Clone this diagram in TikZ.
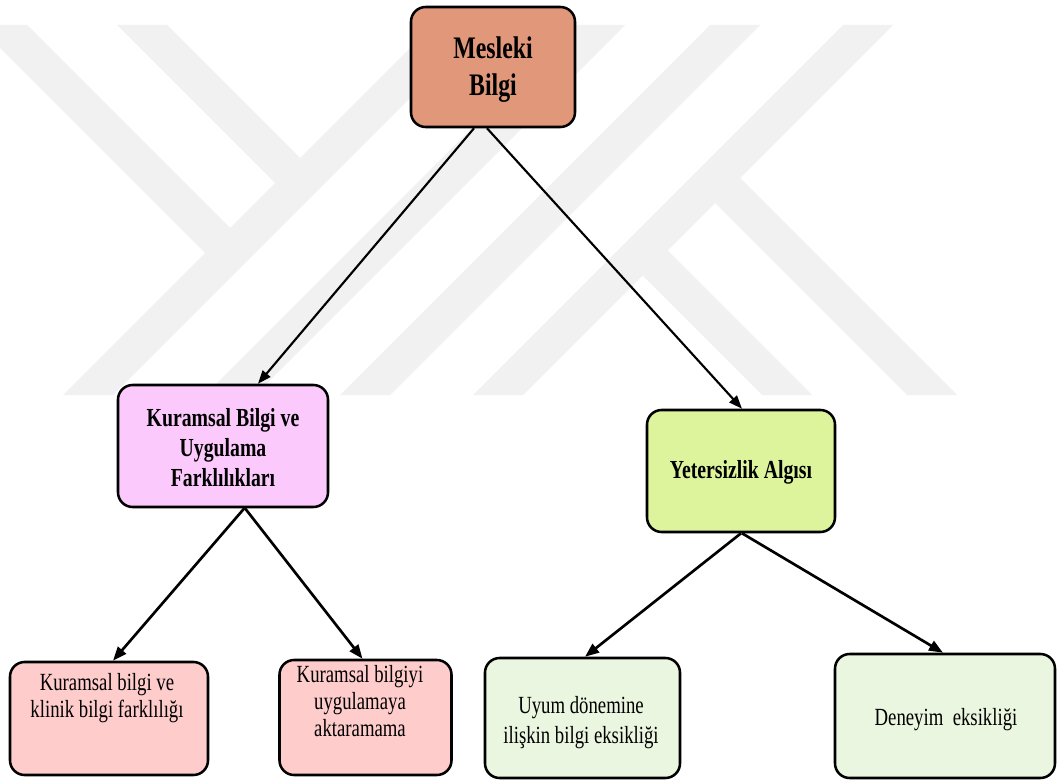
\documentclass[tikz,border=0pt]{standalone}
\usepackage{fontspec}
\setmainfont{Liberation Serif}[FakeStretch=0.76]
\usetikzlibrary{arrows.meta}

\definecolor{rootfill}{RGB}{224,151,122}
\definecolor{midpink}{RGB}{251,201,251}
\definecolor{midgreen}{RGB}{221,244,156}
\definecolor{leafpink}{RGB}{255,204,204}
\definecolor{leafgreen}{RGB}{235,246,224}
\definecolor{markgray}{RGB}{241,241,241}

\newcommand\fRoot{\bfseries\fontsize{23.5pt}{27.75pt}\selectfont}
\newcommand\fMid{\bfseries\fontsize{19.5pt}{22.5pt}\selectfont}
\newcommand\fLeaf{\fontsize{18.5pt}{20.5pt}\selectfont}
\newcommand\fLeafWide{\fontsize{18.5pt}{22.5pt}\selectfont}

\begin{document}
\begin{tikzpicture}[x=0.75pt,y=-0.75pt,
  box/.style={draw=black, line width=1.9pt, rounded corners=11pt, inner sep=0pt},
  txt/.style={align=center, inner sep=0pt},
  link/.style={line width=1.6pt, -{Triangle[length=10pt,width=7.5pt]}},
  thicklink/.style={line width=2pt, -{Triangle[length=10.5pt,width=8pt]}}
]
% page
\fill[white] (0,0) rectangle (1057,781);
\useasboundingbox (0,0) rectangle (1057,781);

% faint background logo made of diagonal bands
\begin{scope}[markgray]
  \fill (0,25) -- (27,25) -- (230,228) -- (205,253) -- (0,48) -- cycle;
  \fill (117,25) -- (167,25) -- (300,158) -- (275,183) -- cycle;
  \fill (433,25) -- (483,25) -- (113,395) -- (63,395) -- cycle;
  \fill (575,25) -- (625,25) -- (255,395) -- (205,395) -- cycle;
  \fill (710,25) -- (760,25) -- (390,395) -- (340,395) -- cycle;
  \fill (843,25) -- (893,25) -- (523,395) -- (473,395) -- cycle;
  \fill (740,178) -- (957,395) -- (907,395) -- (715,203) -- cycle;
  \fill (667.5,250.5) -- (812,395) -- (762,395) -- (642.5,275.5) -- cycle;
\end{scope}

% boxes
\node[box, fill=rootfill,  minimum width=123pt,    minimum height=90pt]    (root) at (493,67)    {};
\node[box, fill=midpink,   minimum width=157.5pt,  minimum height=91.5pt]  (kur)  at (223,446)   {};
\node[box, fill=midgreen,  minimum width=141pt,    minimum height=91.5pt]  (yet)  at (741,471)   {};
\node[box, fill=leafpink,  minimum width=148.5pt,  minimum height=84.75pt] (b1)   at (109,718.5) {};
\node[box, fill=leafpink,  minimum width=129pt,    minimum height=86.25pt] (b2)   at (365.5,717.5) {};
\node[box, fill=leafgreen, minimum width=146.25pt, minimum height=90pt]    (b3)   at (582.5,718) {};
\node[box, fill=leafgreen, minimum width=165pt,    minimum height=93pt]    (b4)   at (945,716)   {};

% labels
\node[txt, font=\fRoot]     (rootT) at (493,70)  {Mesleki\\Bilgi};
\node[txt, font=\fMid]      (kurT)  at (223,448) {Kuramsal Bilgi ve\\Uygulama\\Farklılıkları};
\node[txt, font=\fMid]      (yetT)  at (741,472) {Yetersizlik Algısı};
\node[txt, font=\fLeaf]     (b1T)   at (107,698) {Kuramsal bilgi ve\\klinik bilgi farklılığı};
\node[txt, font=\fLeaf]     (b2T)   at (360,701) {Kuramsal bilgiyi\\uygulamaya\\aktaramama};
\node[txt, font=\fLeafWide] (b3T)   at (581,723) {Uyum dönemine\\ilişkin bilgi eksikliği};
\node[txt, font=\fLeaf]     (b4T)   at (946,720) {Deneyim\ \ eksikliği};

% connectors
\draw[link] ([xshift=-14.25pt]root.south) -- ([xshift=26.25pt]kur.north);
\draw[link] ([xshift=-4.5pt]root.south) -- ([xshift=0.75pt]yet.north);
\draw[thicklink] ([xshift=16pt]kur.south) -- ([xshift=3pt]b1.north);
\draw[thicklink] ([xshift=16.5pt]kur.south) -- ([xshift=-2.25pt]b2.north);
\draw[thicklink] (yet.south) -- ([xshift=1.9pt]b3.north);
\draw[thicklink] ([xshift=0.75pt]yet.south) -- ([xshift=-1.5pt]b4.north);
\end{tikzpicture}
\end{document}
